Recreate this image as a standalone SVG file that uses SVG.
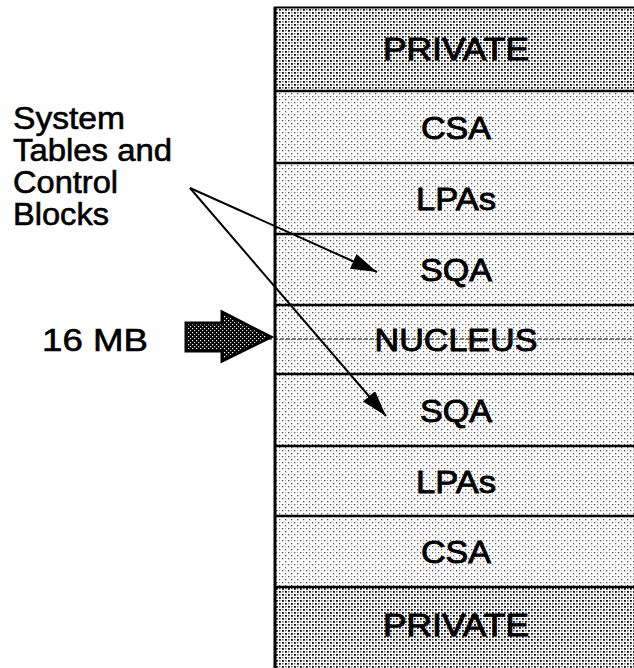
<svg xmlns="http://www.w3.org/2000/svg" width="634" height="668" viewBox="0 0 634 668">
<style>
.lbl{font-family:"Liberation Sans",Arial,sans-serif;font-size:31px;fill:#000;stroke:#000;stroke-width:0.9px;text-anchor:middle}
.side{font-family:"Liberation Sans",Arial,sans-serif;font-size:31px;fill:#000;stroke:#000;stroke-width:0.6px}
.sep{stroke:#000;stroke-width:2.5}
.conn{stroke:#000;stroke-width:2;fill:none}
</style>
<defs>
<pattern id="pDark" width="6" height="6" patternUnits="userSpaceOnUse">
<rect width="6" height="6" fill="#fff"/>
<rect x="0" y="0" width="1.8" height="1.8" fill="#000"/>
<rect x="3" y="3" width="1.8" height="1.8" fill="#000"/>
<rect x="3" y="0" width="1.5" height="1.5" fill="#666"/>
<rect x="0" y="3" width="1.5" height="1.5" fill="#666"/>
</pattern>
<pattern id="pLight" width="6" height="6" patternUnits="userSpaceOnUse">
<rect width="6" height="6" fill="#fff"/>
<rect x="0" y="0" width="1.3" height="1.3" fill="#555"/>
<rect x="3" y="3" width="1.3" height="1.3" fill="#555"/>
<rect x="3" y="0" width="1" height="1" fill="#aaa"/>
</pattern>
<pattern id="pArrow" width="4" height="4" patternUnits="userSpaceOnUse">
<rect width="4" height="4" fill="#000"/>
<rect x="0" y="0" width="1.2" height="1.2" fill="#fff"/>
<rect x="2" y="2" width="1.2" height="1.2" fill="#ddd"/>
</pattern>
<marker id="ah" markerUnits="userSpaceOnUse" markerWidth="28" markerHeight="16" refX="26" refY="8" orient="auto">
<path d="M0,0 L26,8 L0,16 Z" fill="#000"/>
</marker>
</defs>

<g id="band-private-top">
<rect x="275" y="7" width="362" height="84" fill="url(#pDark)"/>
<text class="lbl" x="456" y="60" textLength="146" lengthAdjust="spacingAndGlyphs">PRIVATE</text>
</g>
<g id="band-csa-top">
<rect x="275" y="91" width="362" height="72" fill="url(#pLight)"/>
<text class="lbl" x="456" y="139" textLength="70" lengthAdjust="spacingAndGlyphs">CSA</text>
</g>
<g id="band-lpas-top">
<rect x="275" y="163" width="362" height="71" fill="url(#pLight)"/>
<text class="lbl" x="456" y="210" textLength="80" lengthAdjust="spacingAndGlyphs">LPAs</text>
</g>
<g id="band-sqa-top">
<rect x="275" y="234" width="362" height="71" fill="url(#pLight)"/>
<text class="lbl" x="456" y="281" textLength="72" lengthAdjust="spacingAndGlyphs">SQA</text>
</g>
<g id="band-nucleus">
<rect x="275" y="305" width="362" height="69" fill="url(#pLight)"/>
<text class="lbl" x="456" y="351" textLength="163" lengthAdjust="spacingAndGlyphs">NUCLEUS</text>
<line x1="268" y1="339" x2="634" y2="339" stroke="#000" stroke-width="1.2" stroke-dasharray="4 2"/>
</g>
<g id="band-sqa-bottom">
<rect x="275" y="374" width="362" height="72" fill="url(#pLight)"/>
<text class="lbl" x="456" y="422" textLength="72" lengthAdjust="spacingAndGlyphs">SQA</text>
</g>
<g id="band-lpas-bottom">
<rect x="275" y="446" width="362" height="70" fill="url(#pLight)"/>
<text class="lbl" x="456" y="493" textLength="80" lengthAdjust="spacingAndGlyphs">LPAs</text>
</g>
<g id="band-csa-bottom">
<rect x="275" y="516" width="362" height="71" fill="url(#pLight)"/>
<text class="lbl" x="456" y="563" textLength="70" lengthAdjust="spacingAndGlyphs">CSA</text>
</g>
<g id="band-private-bottom">
<rect x="275" y="587" width="362" height="85" fill="url(#pDark)"/>
<text class="lbl" x="456" y="636" textLength="146" lengthAdjust="spacingAndGlyphs">PRIVATE</text>
</g>

<g id="frame">
<line x1="275" y1="7" x2="275" y2="668" stroke="#000" stroke-width="3"/>
<line x1="274" y1="7.5" x2="634" y2="7.5" stroke="#000" stroke-width="2"/>
<line class="sep" x1="275" y1="91" x2="634" y2="91"/>
<line class="sep" x1="275" y1="163" x2="634" y2="163"/>
<line class="sep" x1="275" y1="234" x2="634" y2="234"/>
<line class="sep" x1="275" y1="305" x2="634" y2="305"/>
<line class="sep" x1="275" y1="374" x2="634" y2="374"/>
<line class="sep" x1="275" y1="446" x2="634" y2="446"/>
<line class="sep" x1="275" y1="516" x2="634" y2="516"/>
<line class="sep" x1="275" y1="587" x2="634" y2="587"/>
</g>

<g id="label-system-tables">
<text class="side" x="13" y="129" textLength="112" lengthAdjust="spacingAndGlyphs">System</text>
<text class="side" x="13" y="161" textLength="159" lengthAdjust="spacingAndGlyphs">Tables and</text>
<text class="side" x="13" y="193" textLength="105" lengthAdjust="spacingAndGlyphs">Control</text>
<text class="side" x="13" y="225" textLength="96" lengthAdjust="spacingAndGlyphs">Blocks</text>
</g>

<g id="label-16mb">
<text class="side" x="42" y="351" textLength="106" lengthAdjust="spacingAndGlyphs">16 MB</text>
<polygon points="186,323 222,323 222,312 271,337 222,361 222,351 186,351" fill="url(#pArrow)" stroke="#000" stroke-width="3" stroke-linejoin="miter"/>
</g>

<g id="connectors">
<line class="conn" x1="190" y1="188" x2="377" y2="272" marker-end="url(#ah)"/>
<line class="conn" x1="190" y1="188" x2="386" y2="416" marker-end="url(#ah)"/>
</g>
</svg>
